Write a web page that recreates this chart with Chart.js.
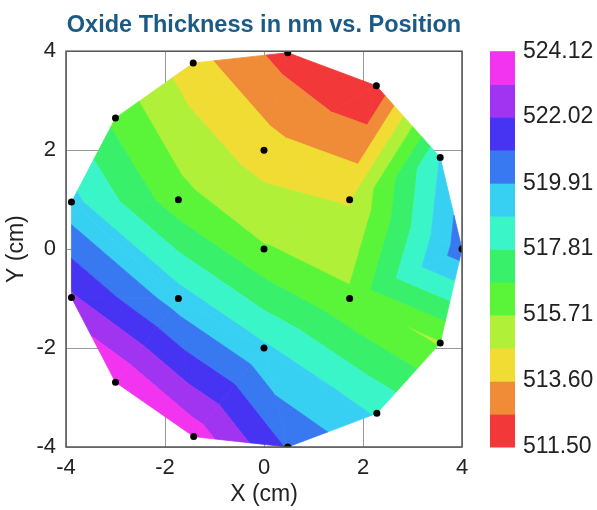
<!DOCTYPE html>
<html>
<head>
<meta charset="utf-8">
<script src="https://cdn.jsdelivr.net/npm/chart.js@4.4.1/dist/chart.umd.min.js"></script>
<style>
  html, body { margin: 0; padding: 0; background: #fff; }
  #wrap { width: 597px; height: 510px; }
</style>
</head>
<body>
<div id="wrap"><canvas id="oxide_chart"></canvas></div>
<script>
'use strict';

// measurement sites on the wafer (cm)
const xPos = [0.00, 1.73, 0.00, -1.73, -1.73, 0.00, 1.73,
              4.00, 3.56, 2.27, 0.48, -1.43, -3.00, -3.89, -3.89, -3.00, -1.42, 0.48, 2.28, 3.56];
const yPos = [0.00, 1.00, 2.00, 1.00, -1.00, -2.00, -1.00,
              0.00, 1.85, 3.30, 3.97, 3.76, 2.65, 0.95, -0.98, -2.69, -3.79, -4.00, -3.32, -1.90];
// oxide thickness (nm) at each site
const thickness = [515.80, 514.55, 514.10, 516.10, 519.35, 519.05, 515.90,
                   520.50, 518.90, 511.50, 512.10, 514.00, 516.45, 519.20, 522.20, 524.12, 523.70, 520.85, 518.75, 515.60];

const levels = [511.50, 512.55, 513.60, 514.66, 515.71, 516.76, 517.81,
                518.86, 519.91, 520.97, 522.02, 523.07, 524.12];
const levelLabels = [511.50, 513.60, 515.71, 517.81, 519.91, 522.02, 524.12];
const axisTicks = [-4, -2, 0, 2, 4];

const bandColors = ['#f23838', '#f08c37', '#f0dc32', '#b0f038', '#5af538', '#38f06a',
                    '#3af5c8', '#38d0f2', '#3878f0', '#4634f2', '#a034f0', '#f234f0'];

const FONT = "'Liberation Sans', Arial, sans-serif";

// brute force delaunay, fine for 20 points
function triangulate(px, py) {
    const tris = [];
    const n = px.length;
    for (let i = 0; i < n; i++) {
        for (let j = i + 1; j < n; j++) {
            for (let k = j + 1; k < n; k++) {
                const ax = px[i], ay = py[i], bx = px[j], by = py[j], cx = px[k], cy = py[k];
                const d = 2 * (ax * (by - cy) + bx * (cy - ay) + cx * (ay - by));
                if (Math.abs(d) < 1e-9) continue;
                const a2 = ax * ax + ay * ay, b2 = bx * bx + by * by, c2 = cx * cx + cy * cy;
                const ux = (a2 * (by - cy) + b2 * (cy - ay) + c2 * (ay - by)) / d;
                const uy = (a2 * (cx - bx) + b2 * (ax - cx) + c2 * (bx - ax)) / d;
                const r2 = (ax - ux) ** 2 + (ay - uy) ** 2;
                let ok = true;
                for (let m = 0; m < n && ok; m++) {
                    if (m === i || m === j || m === k) continue;
                    if ((px[m] - ux) ** 2 + (py[m] - uy) ** 2 < r2 - 1e-7) ok = false;
                }
                if (ok) tris.push([i, j, k]);
            }
        }
    }
    return tris;
}

// keep the part of a polygon above (or below) a level, values linear along edges
function clip(poly, level, keepAbove) {
    const out = [];
    const inside = (p) => keepAbove ? p.v >= level : p.v <= level;
    for (let i = 0; i < poly.length; i++) {
        const cur = poly[i];
        const prev = poly[(i + poly.length - 1) % poly.length];
        const cin = inside(cur), pin = inside(prev);
        if (cin !== pin) {
            const t = (level - prev.v) / (cur.v - prev.v);
            out.push({ x: prev.x + t * (cur.x - prev.x), y: prev.y + t * (cur.y - prev.y), v: level });
        }
        if (cin) out.push(cur);
    }
    return out;
}

const triangles = triangulate(xPos, yPos);

const contourPlugin = {
    id: 'contour',
    beforeDatasetsDraw(chart) {
        const ctx = chart.ctx;
        const sx = chart.scales.x, sy = chart.scales.y;
        ctx.save();
        ctx.lineJoin = 'round';
        for (const t of triangles) {
            const tri = t.map((i) => ({ x: xPos[i], y: yPos[i], v: thickness[i] }));
            for (let k = 0; k < bandColors.length; k++) {
                let poly = tri;
                if (k > 0) poly = clip(poly, levels[k], true);
                if (k < bandColors.length - 1 && poly.length) poly = clip(poly, levels[k + 1], false);
                if (poly.length < 3) continue;
                ctx.beginPath();
                poly.forEach((p, idx) => {
                    const X = sx.getPixelForValue(p.x), Y = sy.getPixelForValue(p.y);
                    if (idx === 0) ctx.moveTo(X, Y); else ctx.lineTo(X, Y);
                });
                ctx.closePath();
                ctx.fillStyle = bandColors[k];
                ctx.strokeStyle = bandColors[k];
                ctx.lineWidth = 0.8;
                ctx.fill();
                ctx.stroke();
            }
        }
        ctx.restore();
    },
    afterDraw(chart) {
        const ctx = chart.ctx;
        const a = chart.chartArea;
        const cb = chart.scales.cb;
        ctx.save();
        // frame round the plot
        ctx.strokeStyle = '#555';
        ctx.lineWidth = 1.5;
        ctx.strokeRect(a.left, a.top, a.right - a.left, a.bottom - a.top);
        // colour bar cells
        for (let k = 0; k < bandColors.length; k++) {
            const y1 = cb.getPixelForValue(levels[k + 1]);
            const y0 = cb.getPixelForValue(levels[k]);
            ctx.fillStyle = bandColors[k];
            ctx.fillRect(cb.left + 28, y1, 25, y0 - y1 + 0.5);
        }
        ctx.restore();
    }
};

new Chart(document.querySelector('#oxide_chart'), {
    type: 'scatter',
    data: {
        datasets: [{
            label: 'Sites',
            data: xPos.map((x, i) => ({ x: x, y: yPos[i] })),
            xAxisID: 'x',
            yAxisID: 'y',
            backgroundColor: '#000',
            borderWidth: 0,
            pointRadius: 3.5,
        }]
    },
    options: {
        responsive: true,
        maintainAspectRatio: false,
        animation: false,
        layout: { padding: 0 },
        plugins: {
            legend: { display: false },
            tooltip: { enabled: false },
            title: {
                display: true,
                fullSize: false,
                text: 'Oxide Thickness in nm vs. Position',
                color: '#1b5a86',
                font: { family: FONT, size: 23.5, weight: 'bold' },
                padding: { top: 11, bottom: 12 },
            },
        },
        scales: {
            x: {
                type: 'linear',
                min: -4, max: 4,
                afterBuildTicks: (s) => { s.ticks = axisTicks.map((v) => ({ value: v })); },
                afterFit: (s) => { s.height = 63; },
                ticks: { color: '#222', padding: 8, font: { family: FONT, size: 22 } },
                grid: { color: '#999', drawTicks: false },
                border: { display: false },
                title: { display: true, text: 'X (cm)', color: '#222', padding: { top: 0, bottom: 2 }, font: { family: FONT, size: 23 } },
            },
            y: {
                type: 'linear',
                min: -4, max: 4,
                afterBuildTicks: (s) => { s.ticks = axisTicks.map((v) => ({ value: v })); },
                afterFit: (s) => { s.width = 66; },
                ticks: { color: '#222', padding: 10, font: { family: FONT, size: 22 } },
                grid: { color: '#999', drawTicks: false },
                border: { display: false },
                title: { display: true, text: 'Y (cm)', color: '#222', padding: { top: 3, bottom: 0 }, font: { family: FONT, size: 23 } },
            },
            cb: {
                type: 'linear',
                axis: 'y',
                position: 'right',
                min: levels[0], max: levels[levels.length - 1],
                afterBuildTicks: (s) => { s.ticks = levelLabels.map((v) => ({ value: v })); },
                afterFit: (s) => { s.width = 135; },
                ticks: {
                    color: '#222', padding: 8,
                    font: { family: FONT, size: 23 },
                    callback: (v) => v.toFixed(2),
                },
                // tick marks hidden, their length only pushes the labels past the bar
                grid: { display: false, drawTicks: true, tickLength: 53 },
                border: { display: false },
            },
        },
    },
    plugins: [contourPlugin],
});
</script>
</body>
</html>
